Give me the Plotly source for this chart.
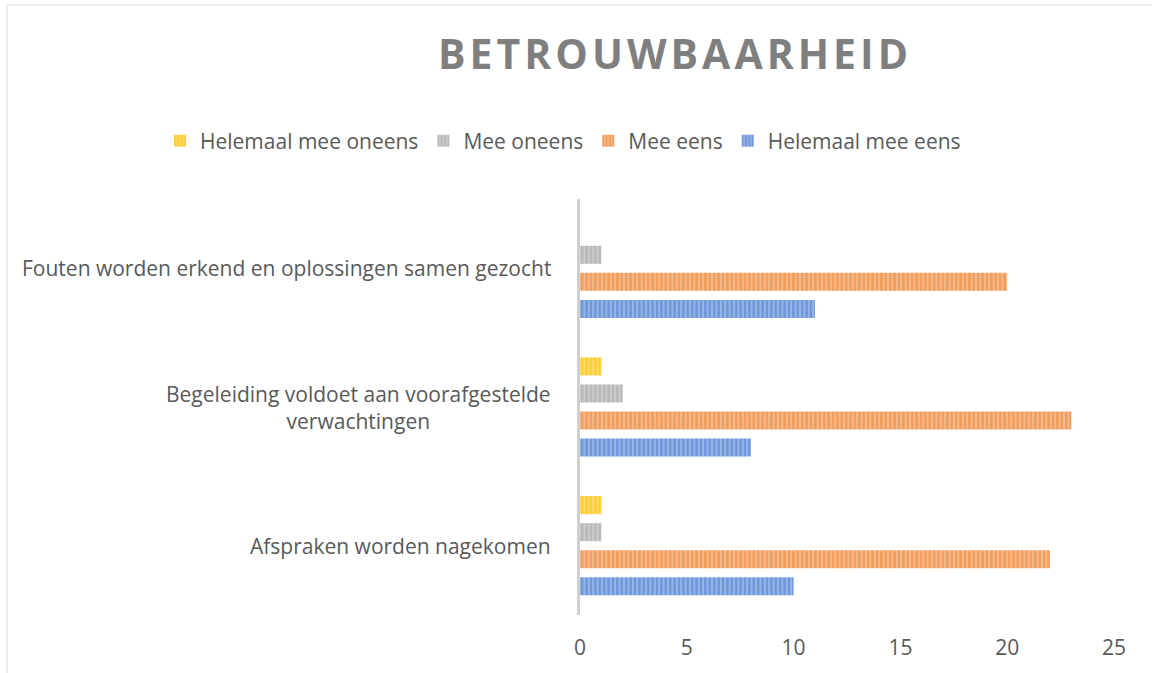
import plotly.graph_objects as go

categories = [
    "Afspraken worden nagekomen",
    "Begeleiding voldoet aan voorafgestelde<br>verwachtingen",
    "Fouten worden erkend en oplossingen samen gezocht",
]
series_names = ["Helemaal mee eens", "Mee eens", "Mee oneens", "Helemaal mee oneens"]
helemaal_mee_eens = [10, 8, 11]
mee_eens = [22, 23, 20]
mee_oneens = [1, 2, 1]
helemaal_mee_oneens = [1, 1, 0]
x_ticks = [0, 5, 10, 15, 20, 25]
title_text = "BETROUWBAARHEID"

values = [helemaal_mee_eens, mee_eens, mee_oneens, helemaal_mee_oneens]
fg_colors = ["#4678CF", "#EE7F2E", "#A3A3A3", "#FFC000"]
bg_colors = ["#9AB8E6", "#F5BC8E", "#CECECE", "#FFDC6E"]

FONT = "Open Sans"
TXT = "#595959"

fig = go.Figure()
for name, vals, fg, bg in zip(series_names, values, fg_colors, bg_colors):
    fig.add_trace(go.Bar(
        y=categories, x=vals, name=name, orientation="h",
        marker=dict(
            color=fg, line=dict(width=0),
            pattern=dict(shape="|", fgcolor=fg, bgcolor=bg, size=4.4,
                         solidity=0.62, fillmode="overlay"),
        ),
    ))

W, H = 1152, 673
L, R, T, B = 580, 38, 199, 58
pw, ph = W - L - R, H - T - B

def px_x(p):
    return (p - L) / pw

def px_y(p):
    return (H - B - p) / ph

annotations = []
for c in categories:
    annotations.append(dict(
        x=px_x(553), xref="paper", y=c, yref="y", text=c, showarrow=False,
        xanchor="right", yanchor="middle", align="center",
        font=dict(family=FONT, size=21, color=TXT),
    ))

fig.update_layout(
    width=W, height=H,
    margin=dict(l=L, r=R, t=T, b=B),
    paper_bgcolor="white", plot_bgcolor="white",
    barmode="group", bargap=0.22, bargroupgap=0.333,
    title=dict(text='<span style="letter-spacing:4px">' + title_text + '</span>',
               x=675 / W, xanchor="center", xref="container",
               y=1 - 55 / H, yanchor="middle", yref="container",
               font=dict(family=FONT, size=41, color="#7F7F7F", weight=700)),
    legend=dict(orientation="h", traceorder="reversed", xref="paper",
                x=px_x(160), xanchor="left", yref="paper",
                y=px_y(141), yanchor="middle",
                font=dict(family=FONT, size=21, color=TXT),
                bgcolor="rgba(0,0,0,0)", itemwidth=30),
    xaxis=dict(range=[0, 25], tickvals=x_ticks, showgrid=False, zeroline=False,
               showline=False, ticks="", ticklabelstandoff=18,
               tickfont=dict(family=FONT, size=21, color=TXT), fixedrange=True),
    yaxis=dict(categoryorder="array", categoryarray=categories, showgrid=False,
               zeroline=False, showline=True, linecolor="#CFCFCF", linewidth=3,
               showticklabels=False, ticks="", fixedrange=True),
    annotations=annotations,
    shapes=[dict(type="rect", xref="paper", yref="paper",
                 x0=px_x(7), x1=px_x(1160), y0=px_y(680), y1=px_y(5),
                 line=dict(color="#D9D9D9", width=1), fillcolor="rgba(0,0,0,0)", layer="below")],
    showlegend=True,
)

fig.write_html("out.html", config={"displayModeBar": False},
               post_script="document.body.style.margin='0';document.body.style.padding='0';")
